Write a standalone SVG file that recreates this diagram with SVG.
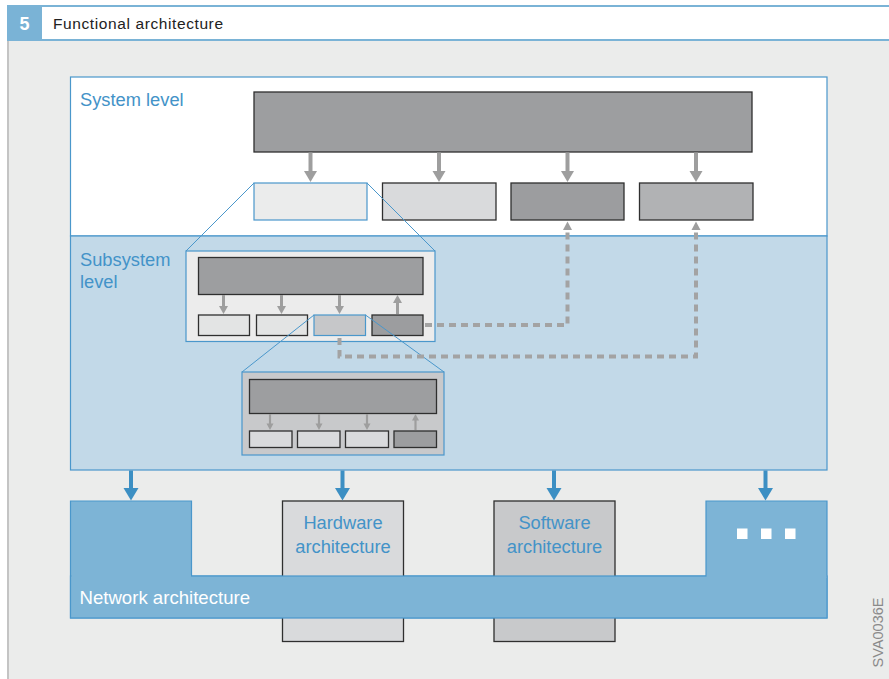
<svg xmlns="http://www.w3.org/2000/svg" width="889" height="679" viewBox="0 0 889 679">
<style>
.bg{fill:#ebeceb}
.lbl{font-family:"Liberation Sans",Arial,sans-serif;fill:#4393c8}
.dk{stroke:#2f2f2f;stroke-width:1.3}
.bl{stroke:#4a97cb;stroke-width:1.2}
.ga{fill:none;stroke:#9e9e9e}
.dash{fill:none;stroke:#a3a3a3;stroke-width:4;stroke-dasharray:7 5}
.gh{fill:#9e9e9e}
.ba{fill:none;stroke:#3c8fc3;stroke-width:4}
.bh{fill:#3c8fc3}
</style>
<rect x="0" y="0" width="889" height="679" fill="#ffffff"/>
<rect x="8" y="40" width="881" height="639" class="bg"/>
<line x1="8" y1="40" x2="8" y2="679" stroke="#c4c4c4" stroke-width="2"/>
<g id="header">
<rect x="0" y="6" width="889" height="34" fill="#ffffff"/>
<line x1="7" y1="6" x2="889" y2="6" stroke="#7ab3d6" stroke-width="2"/>
<line x1="7" y1="40" x2="889" y2="40" stroke="#7ab3d6" stroke-width="2"/>
<rect x="7" y="5" width="35" height="36" fill="#7ab3d6"/>
<text x="24.5" y="30" text-anchor="middle" font-family="Liberation Sans,Arial,sans-serif" font-weight="bold" font-size="18" fill="#ffffff">5</text>
<text x="53" y="29" font-family="Liberation Sans,Arial,sans-serif" font-size="15.5" textLength="170" lengthAdjust="spacing" fill="#222222">Functional architecture</text>
</g>

<g id="system-level">
<rect x="70.5" y="77" width="756.5" height="159" fill="#ffffff" class="bl"/>
<text x="80" y="106" class="lbl" font-size="18.3">System level</text>
</g>
<g id="subsystem-level">
<rect x="70.5" y="236" width="756.5" height="234" fill="#c2d9e8" class="bl"/>
<text x="80" y="266" class="lbl" font-size="18.3">Subsystem</text>
<text x="80" y="288" class="lbl" font-size="18.3">level</text>
</g>

<g id="system-main"><rect x="254" y="92" width="498" height="60" fill="#9d9ea0" class="dk"/></g>
<g id="sys-box1"><rect x="254" y="183" width="113" height="37" fill="#ebecec" class="bl"/></g>
<g id="sys-box2"><rect x="382.5" y="183" width="113.5" height="37" fill="#d9dadc" class="dk"/></g>
<g id="sys-box3"><rect x="511" y="183" width="113" height="37" fill="#9c9d9f" class="dk"/></g>
<g id="sys-box4"><rect x="639.5" y="183" width="113.5" height="37" fill="#b1b2b4" class="dk"/></g>

<g id="zoom-lines1">
<line x1="254" y1="183" x2="186" y2="251" stroke="#4a97cb" stroke-width="1"/>
<line x1="367" y1="183" x2="435" y2="251" stroke="#4a97cb" stroke-width="1"/>
</g>

<g id="subsystem-panel">
<rect x="186" y="251" width="249" height="90.5" fill="#ececec" class="bl"/>
<rect x="198.5" y="257.5" width="224.5" height="37" fill="#9d9ea0" class="dk"/>
<rect x="198.5" y="315" width="51" height="20.5" fill="#e3e4e4" class="dk"/>
<rect x="256.5" y="315" width="51" height="20.5" fill="#e3e4e4" class="dk"/>
<rect x="314" y="315" width="51.5" height="20.5" fill="#c6c7c9" class="bl"/>
<rect x="372" y="315" width="51" height="20.5" fill="#9c9d9f" class="dk"/>
</g>

<g id="zoom-lines2">
<line x1="314" y1="315" x2="242" y2="372" stroke="#4a97cb" stroke-width="1"/>
<line x1="365.5" y1="315" x2="444" y2="372" stroke="#4a97cb" stroke-width="1"/>
</g>

<g id="subsubsystem-panel">
<rect x="242" y="372" width="202" height="83" fill="#c8c9cb" class="bl"/>
<rect x="249.5" y="379.5" width="187" height="34" fill="#9d9ea0" class="dk"/>
<rect x="249.5" y="431" width="42.5" height="16.5" fill="#d9dadc" class="dk"/>
<rect x="297.5" y="431" width="42.5" height="16.5" fill="#d9dadc" class="dk"/>
<rect x="345.5" y="431" width="43" height="16.5" fill="#d9dadc" class="dk"/>
<rect x="394" y="431" width="42.5" height="16.5" fill="#9c9d9f" class="dk"/>
</g>

<g id="network">
<path d="M70.5 501 H191.5 V576 H706 V501 H827 V618 H70.5 Z" fill="#7db4d6" stroke="#4a97cb" stroke-width="1.2"/>
</g>
<g id="hardware">
<rect x="282.5" y="501" width="121" height="140.5" fill="#d9dadc" class="dk"/>
<text x="343" y="529" text-anchor="middle" class="lbl" font-size="18.3">Hardware</text>
<text x="343" y="552.5" text-anchor="middle" class="lbl" font-size="18.3">architecture</text>
</g>
<g id="software">
<rect x="494" y="501" width="121" height="140.5" fill="#c8c9cb" class="dk"/>
<text x="554.5" y="529" text-anchor="middle" class="lbl" font-size="18.3">Software</text>
<text x="554.5" y="552.5" text-anchor="middle" class="lbl" font-size="18.3">architecture</text>
</g>
<g id="network-bar">
<rect x="70.5" y="576" width="756.5" height="42" fill="#7db4d6" stroke="#4a97cb" stroke-width="1.2"/>
<rect x="71.5" y="575" width="119.5" height="3" fill="#7db4d6"/>
<rect x="706.6" y="575" width="119.8" height="3" fill="#7db4d6"/>
<text x="79.5" y="604" font-family="Liberation Sans,Arial,sans-serif" font-size="18.6" fill="#ffffff">Network architecture</text>
</g>
<g id="more">
<rect x="737" y="528.5" width="10.5" height="10.5" fill="#ffffff"/>
<rect x="761" y="528.5" width="10.5" height="10.5" fill="#ffffff"/>
<rect x="785" y="528.5" width="10.5" height="10.5" fill="#ffffff"/>
</g>

<g id="connectors">
<g>
<line x1="310.5" y1="152.5" x2="310.5" y2="172" class="ga" stroke-width="4"/>
<path d="M304 171 H317 L310.5 182 Z" class="gh"/>
<line x1="439" y1="152.5" x2="439" y2="172" class="ga" stroke-width="4"/>
<path d="M432.5 171 H445.5 L439 182 Z" class="gh"/>
<line x1="567.5" y1="152.5" x2="567.5" y2="172" class="ga" stroke-width="4"/>
<path d="M561 171 H574 L567.5 182 Z" class="gh"/>
<line x1="696" y1="152.5" x2="696" y2="172" class="ga" stroke-width="4"/>
<path d="M689.5 171 H702.5 L696 182 Z" class="gh"/>
</g>
<g>
<line x1="223.5" y1="295" x2="223.5" y2="307" class="ga" stroke-width="3"/>
<path d="M219 306 H228 L223.5 314 Z" class="gh"/>
<line x1="281.5" y1="295" x2="281.5" y2="307" class="ga" stroke-width="3"/>
<path d="M277 306 H286 L281.5 314 Z" class="gh"/>
<line x1="339.5" y1="295" x2="339.5" y2="307" class="ga" stroke-width="3"/>
<path d="M335 306 H344 L339.5 314 Z" class="gh"/>
<line x1="397.5" y1="314" x2="397.5" y2="302" class="ga" stroke-width="3"/>
<path d="M393 303 H402 L397.5 295 Z" class="gh"/>
</g>
<g>
<line x1="270" y1="414" x2="270" y2="424" class="ga" stroke-width="2.2"/>
<path d="M266.5 423.5 H273.5 L270 430 Z" class="gh"/>
<line x1="319" y1="414" x2="319" y2="424" class="ga" stroke-width="2.2"/>
<path d="M315.5 423.5 H322.5 L319 430 Z" class="gh"/>
<line x1="367" y1="414" x2="367" y2="424" class="ga" stroke-width="2.2"/>
<path d="M363.5 423.5 H370.5 L367 430 Z" class="gh"/>
<line x1="415.5" y1="430" x2="415.5" y2="420" class="ga" stroke-width="2.2"/>
<path d="M412 420.5 H419 L415.5 414 Z" class="gh"/>
</g>
<g>
<path d="M425 325 H567.5 V231" class="dash"/>
<path d="M563 230 H572 L567.5 221.5 Z" class="gh"/>
<path d="M339.5 338 V356.5 H696 V231" class="dash"/>
<path d="M691.5 230 H700.5 L696 221.5 Z" class="gh"/>
</g>
<g>
<line x1="131" y1="470.5" x2="131" y2="489" class="ba"/>
<path d="M123.5 488 H138.5 L131 500.5 Z" class="bh"/>
<line x1="342.5" y1="470.5" x2="342.5" y2="489" class="ba"/>
<path d="M335 488 H350 L342.5 500.5 Z" class="bh"/>
<line x1="554" y1="470.5" x2="554" y2="489" class="ba"/>
<path d="M546.5 488 H561.5 L554 500.5 Z" class="bh"/>
<line x1="765.5" y1="470.5" x2="765.5" y2="489" class="ba"/>
<path d="M758 488 H773 L765.5 500.5 Z" class="bh"/>
</g>
</g>

<text x="0" y="0" transform="translate(882.5 632.5) rotate(-90)" text-anchor="middle" font-family="Liberation Sans,Arial,sans-serif" font-size="14.5" fill="#8a8a8a">SVA0036E</text>
</svg>
